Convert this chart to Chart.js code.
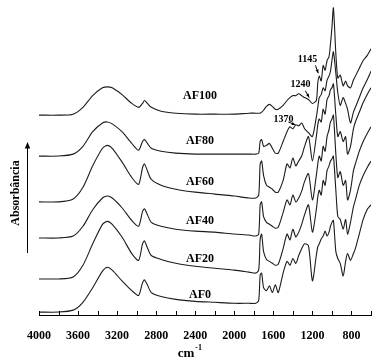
<!DOCTYPE html>
<html>
<head>
<meta charset="utf-8">
<script src="https://cdn.jsdelivr.net/npm/chart.js@4.4.0/dist/chart.umd.min.js"></script>
<style>
  html, body { margin: 0; padding: 0; background: #fff; }
  #wrap { width: 377px; height: 362px; }
</style>
</head>
<body>
<div id="wrap"><canvas id="ftir" width="377" height="362"></canvas></div>
<script>
// wavenumbers (cm-1), shared by all spectra
const wavenumbers = [4000, 3800, 3650, 3550, 3450, 3350, 3300, 3250, 3150, 3050,
  2980, 2940, 2920, 2890, 2850, 2750, 2600, 2400, 2200, 2000,
  1850, 1780, 1750, 1735, 1720, 1700, 1670, 1640, 1610, 1580,
  1550, 1500, 1460, 1430, 1400, 1370, 1340, 1310, 1280, 1240,
  1200, 1160, 1145, 1130, 1110, 1090, 1070, 1050, 1030, 1015,
  1000, 985, 960, 940, 915, 885, 860, 840, 810, 780,
  760, 720, 680, 640, 600];

// absorbance (arbitrary units, spectra already stacked)
const af0 = [3, 3, 5, 13, 28, 45, 49, 46, 35, 25,
  20, 33, 36, 31, 23, 19, 16, 14, 13, 12,
  12, 12, 15, 41, 43, 28, 25, 30, 23, 31,
  23, 43, 55, 51, 58, 53, 61, 68, 73, 71,
  35, 61, 70, 73, 78, 81, 86, 81, 85, 91,
  95, 97, 65, 58, 53, 40, 55, 63, 56, 63,
  68, 83, 98, 108, 113];
const af20 = [37, 37, 39, 51, 73, 93, 96, 93, 80, 63,
  56, 73, 76, 69, 61, 57, 53, 50, 48, 46,
  44, 43, 46, 78, 83, 65, 57, 55, 53, 51,
  52, 68, 83, 77, 88, 80, 85, 93, 103, 113,
  85, 108, 121, 128, 123, 138, 133, 148, 153, 158,
  160, 163, 128, 101, 98, 88, 98, 83, 95, 111,
  118, 133, 143, 151, 158];
const af40 = [79, 79, 81, 91, 108, 120, 122, 120, 110, 97,
  91, 106, 109, 103, 95, 91, 88, 86, 85, 83,
  82, 81, 83, 113, 116, 101, 95, 93, 91, 89,
  90, 105, 118, 113, 123, 116, 120, 127, 137, 145,
  118, 143, 155, 163, 158, 173, 168, 183, 190, 198,
  201, 205, 165, 141, 147, 133, 138, 118, 128, 148,
  155, 168, 178, 186, 193];
const af60 = [116, 116, 119, 131, 153, 171, 174, 171, 157, 141,
  134, 151, 155, 148, 139, 133, 129, 126, 124, 122,
  120, 120, 123, 155, 158, 143, 133, 131, 129, 126,
  126, 138, 155, 151, 161, 153, 158, 163, 173, 183,
  158, 183, 195, 201, 198, 211, 206, 221, 225, 231,
  233, 237, 205, 183, 188, 178, 183, 165, 173, 191,
  198, 208, 218, 226, 233];
const af80 = [163, 163, 165, 173, 188, 197, 198, 196, 188, 176,
  169, 178, 180, 176, 171, 168, 166, 165, 165, 165,
  165, 165, 166, 178, 180, 173, 174, 176, 171, 166,
  166, 178, 188, 193, 191, 195, 194, 197, 191, 187,
  183, 203, 213, 223, 226, 233, 230, 241, 245, 250,
  261, 270, 248, 228, 215, 223, 217, 211, 197, 208,
  213, 223, 233, 241, 250];
const af100 = [205, 205, 206, 213, 225, 233, 234, 233, 226, 217,
  213, 217, 220, 217, 213, 209, 207, 206, 206, 206,
  207, 207, 207, 207, 208, 210, 214, 216, 214, 211,
  211, 215, 220, 223, 225, 225, 227, 225, 223, 221,
  217, 220, 238, 245, 240, 256, 251, 261, 265, 278,
  295, 315, 268, 243, 246, 235, 240, 235, 233, 241,
  245, 253, 261, 266, 273];

const seriesNames = ['AF0', 'AF20', 'AF40', 'AF60', 'AF80', 'AF100'];
const seriesValues = [af0, af20, af40, af60, af80, af100];
// where each name is written: [wavenumber, absorbance]
const nameSpots = [[2350, 21], [2350, 58], [2350, 96], [2350, 136], [2350, 179], [2350, 225]];

const majorTicks = [4000, 3600, 3200, 2800, 2400, 2000, 1600, 1200, 800];
const minorTicks = [3800, 3400, 3000, 2600, 2200, 1800, 1400, 1000, 600];

// band marks: label, text spot, arrow start, arrow end
const bands = [
  { text: '1145', at: [1251, 262], from: [1169, 256], to: [1140, 248] },
  { text: '1240', at: [1323, 236], from: [1272, 230], to: [1233, 223] },
  { text: '1370', at: [1497, 201], from: [1446, 198], to: [1374, 195] }
];

const serif = '"Liberation Serif", "Times New Roman", serif';

function arrowHead(ctx, x1, y1, x2, y2, size) {
  const a = Math.atan2(y2 - y1, x2 - x1);
  ctx.beginPath();
  ctx.moveTo(x2, y2);
  ctx.lineTo(x2 - size * Math.cos(a - 0.4), y2 - size * Math.sin(a - 0.4));
  ctx.lineTo(x2 - size * Math.cos(a + 0.4), y2 - size * Math.sin(a + 0.4));
  ctx.closePath();
  ctx.fill();
}

const decorations = {
  id: 'decorations',
  afterDraw(chart) {
    const { ctx, chartArea } = chart;
    const x = chart.scales.x;
    const y = chart.scales.y;
    ctx.save();
    ctx.strokeStyle = '#000';
    ctx.fillStyle = '#000';
    ctx.lineWidth = 1;

    // tick marks pointing into the plot
    majorTicks.concat(minorTicks).forEach(v => {
      const px = Math.round(x.getPixelForValue(v)) + 0.5;
      ctx.beginPath();
      ctx.moveTo(px, chartArea.bottom);
      ctx.lineTo(px, chartArea.bottom - 4);
      ctx.stroke();
    });

    // axis title cm-1
    ctx.textBaseline = 'alphabetic';
    ctx.textAlign = 'left';
    ctx.font = 'bold 13px ' + serif;
    const cx = x.getPixelForValue(2580);
    ctx.fillText('cm', cx, 357);
    const cw = ctx.measureText('cm').width;
    ctx.font = 'bold 8px ' + serif;
    ctx.fillText('-1', cx + cw + 1, 350);

    // y title with arrow
    ctx.save();
    ctx.translate(19, 193);
    ctx.rotate(-Math.PI / 2);
    ctx.textAlign = 'center';
    ctx.font = 'bold 12px ' + serif;
    ctx.fillText('Absorbância', 0, 0);
    ctx.restore();
    ctx.beginPath();
    ctx.moveTo(27.5, 253);
    ctx.lineTo(27.5, 148);
    ctx.stroke();
    arrowHead(ctx, 27.5, 253, 27.5, 142, 7);

    // spectrum names
    ctx.font = 'bold 12px ' + serif;
    ctx.textAlign = 'center';
    ctx.textBaseline = 'middle';
    seriesNames.forEach((n, i) => {
      ctx.fillText(n, x.getPixelForValue(nameSpots[i][0]), y.getPixelForValue(nameSpots[i][1]));
    });

    // band assignments
    ctx.font = 'bold 10px ' + serif;
    bands.forEach(b => {
      ctx.fillText(b.text, x.getPixelForValue(b.at[0]), y.getPixelForValue(b.at[1]));
      const x1 = x.getPixelForValue(b.from[0]), y1 = y.getPixelForValue(b.from[1]);
      const x2 = x.getPixelForValue(b.to[0]), y2 = y.getPixelForValue(b.to[1]);
      ctx.beginPath();
      ctx.moveTo(x1, y1);
      ctx.lineTo(x2, y2);
      ctx.stroke();
      arrowHead(ctx, x1, y1, x2, y2, 4);
    });
    ctx.restore();
  }
};

const ctx = document.getElementById('ftir').getContext('2d');
new Chart(ctx, {
  type: 'scatter',
  data: {
    datasets: seriesValues.map((vals, i) => ({
      label: seriesNames[i],
      data: wavenumbers.map((w, j) => ({ x: w, y: vals[j] })),
      showLine: true,
      borderColor: '#1c1c1c',
      borderWidth: 1.1,
      pointRadius: 0,
      tension: 0.25,
      fill: false
    }))
  },
  options: {
    responsive: false,
    animation: false,
    layout: { padding: { left: 39, right: 6, top: 3, bottom: 12.6 } },
    plugins: {
      legend: { display: false },
      tooltip: { enabled: false }
    },
    scales: {
      x: {
        type: 'linear',
        reverse: true,
        min: 600,
        max: 4000,
        afterBuildTicks: s => { s.ticks = majorTicks.map(v => ({ value: v })); },
        grid: { display: false },
        border: { display: true, color: '#000', width: 1 },
        ticks: {
          autoSkip: false,
          maxRotation: 0,
          padding: 6,
          color: '#000',
          font: { family: serif, size: 12, weight: 'bold' },
          callback: v => String(v)
        }
      },
      y: { display: false, min: 0, max: 320 }
    }
  },
  plugins: [decorations]
});
</script>
</body>
</html>
